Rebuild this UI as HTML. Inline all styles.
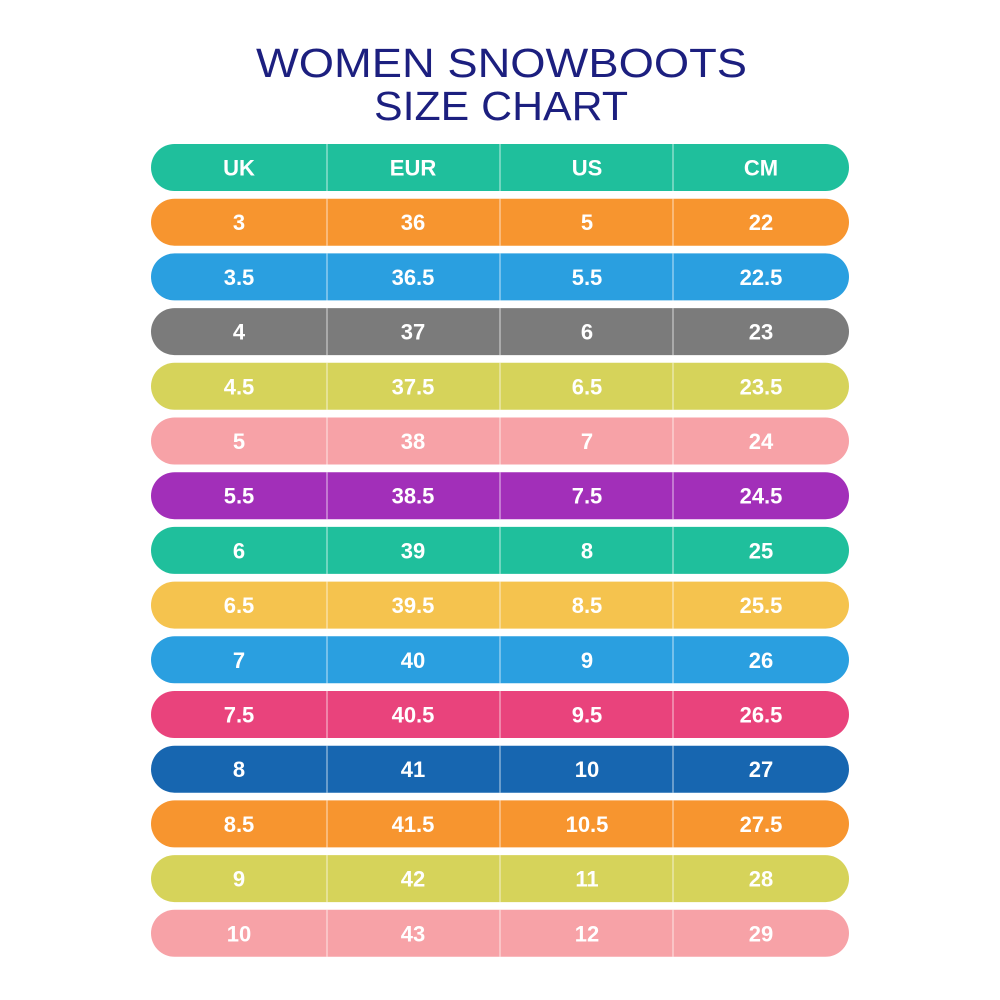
<!DOCTYPE html>
<html><head><meta charset="utf-8"><style>
html,body{margin:0;padding:0;background:#fff;}
svg{display:block;}
text{font-family:"Liberation Sans",sans-serif;}
</style></head><body>
<svg id="chart" width="1000" height="1000" viewBox="0 0 1000 1000">
<rect width="1000" height="1000" fill="#fff"/>
<text x="256" y="77" textLength="491" lengthAdjust="spacingAndGlyphs" font-size="41" fill="#1c1f7f">WOMEN SNOWBOOTS</text>
<text x="374" y="120" textLength="254" lengthAdjust="spacingAndGlyphs" font-size="41" fill="#1c1f7f">SIZE CHART</text>
<g id="rows"></g>
</svg>
<script>
const headers = ["UK","EUR","US","CM"];
const uk = ["3","3.5","4","4.5","5","5.5","6","6.5","7","7.5","8","8.5","9","10"];
const eur = ["36","36.5","37","37.5","38","38.5","39","39.5","40","40.5","41","41.5","42","43"];
const us = ["5","5.5","6","6.5","7","7.5","8","8.5","9","9.5","10","10.5","11","12"];
const cm = ["22","22.5","23","23.5","24","24.5","25","25.5","26","26.5","27","27.5","28","29"];
const colors = ["#1fbf9c","#f7952f","#2a9fe0","#7b7b7b","#d6d35a","#f7a2a7","#a22fb9","#1fbf9c","#f5c34e","#2a9fe0","#e9437c","#1766b0","#f7952f","#d6d35a","#f7a2a7"];
const NS="http://www.w3.org/2000/svg";
const g=document.getElementById('rows');
const x0=151,x1=849,y0=144,step=54.7,h=47;
const divs=[327,500,673];
const colCenters=[239,413,587,761];
const rows=[headers].concat(uk.map((u,i)=>[u,eur[i],us[i],cm[i]]));
rows.forEach((r,i)=>{
  const y=y0+i*step;
  const rg=document.createElementNS(NS,'g');
  
  
  const rect=document.createElementNS(NS,'rect');
  
  
  rect.setAttribute('x',x0);rect.setAttribute('y',y);
  rect.setAttribute('width',x1-x0);rect.setAttribute('height',h);
  rect.setAttribute('rx',h/2);rect.setAttribute('fill',colors[i]);
  rg.appendChild(rect);
  divs.forEach(dx=>{
    const l=document.createElementNS(NS,'line');
    
    
    l.setAttribute('x1',dx);l.setAttribute('x2',dx);
    l.setAttribute('y1',y);l.setAttribute('y2',y+h);
    l.setAttribute('stroke','rgba(255,255,255,0.6)');l.setAttribute('stroke-width','1.2');
    rg.appendChild(l);
  });
  r.forEach((v,j)=>{
    const t=document.createElementNS(NS,'text');
    
    
    t.setAttribute('x',colCenters[j]);t.setAttribute('y',y+h/2+8);
    t.setAttribute('text-anchor','middle');t.setAttribute('font-size','22');
    t.setAttribute('font-weight','bold');t.setAttribute('fill','#fff');
    t.textContent=v;
    rg.appendChild(t);
  });
  g.appendChild(rg);
});
</script>
</body></html>
